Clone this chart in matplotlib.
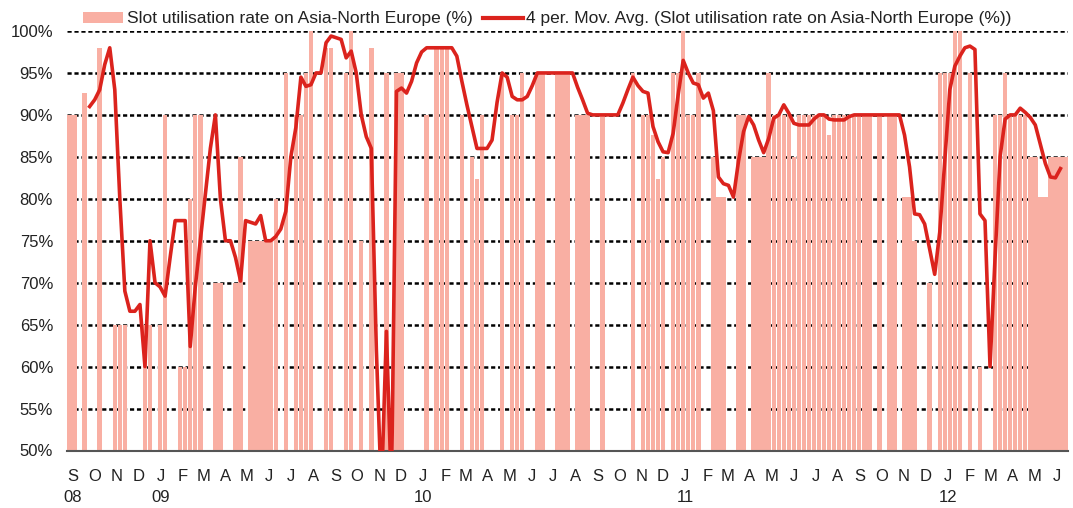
import matplotlib
matplotlib.use("Agg")
import matplotlib.pyplot as plt
import numpy as np
import pandas as pd
from matplotlib.patches import Patch
from matplotlib.lines import Line2D

nan = np.nan

# weekly slot utilisation, Sep 2008 - Jun 2012 (gaps = no data)
util = [
    90, 90, nan, 92.6, nan, nan, 98, nan, nan, 65,
    65, 65, nan, nan, nan, 65, 65, nan, 65, 90,
    nan, nan, 60, 60, 80, 90, 90, nan, nan, 70,
    70, nan, nan, 70, 85, nan, 75, 75, 75, 75,
    75, 80, nan, 95, nan, 90, 90, 95, 100, nan,
    nan, 98, 98, nan, nan, 95, 100, nan, 75, nan,
    98, nan, nan, 95, nan, 95, 95, nan, nan, nan,
    nan, 90, nan, 98, 98, 98, nan, nan, 90, nan,
    85, 82.4, 90, nan, nan, nan, 95, nan, 90, 90,
    95, nan, nan, 95, 95, nan, nan, 95, 95, 95,
    nan, 90, 90, 90, nan, nan, 90, nan, nan, nan,
    nan, nan, 95, nan, 90, 90, 87.6, 82.4, 85, nan,
    95, 95, 100, 90, 90, 95, nan, nan, 85, 80.2,
    80.2, nan, nan, 90, 90, nan, 85, 85, 85, 95,
    90, 90, 90, 90, 85, 90, 90, 90, 90, 90,
    90, 87.6, 90, 90, 90, 90, 90, 90, 90, 90,
    nan, 90, nan, 90, 90, nan, 80.2, 80.2, 75, nan,
    nan, 70, nan, 95, 95, 95, 100, 100, nan, 95,
    nan, 60, nan, nan, 90, 90, 95, 90, 90, 90,
    90, 85, 85, 80.2, 80.2, 85, 85, 85, 85,
]

# 4 period moving average as drawn on the chart
mov_avg = [
    nan, nan, nan, nan, 91, 91.8, 93, 96, 98, 93,
    80, 69, 66.6, 66.6, 67.4, 60, 75, 70, 69.5, 68.4,
    73, 77.4, 77.4, 77.4, 62.4, 69.5, 75, 80.5, 86, 90,
    80, 75, 75, 73, 70.2, 77.4, 77.2, 77, 78, 75,
    75, 75.5, 76.4, 78.5, 85, 88.5, 94.5, 93.4, 93.6, 95,
    95, 98.6, 99.4, 99.2, 99, 96.8, 97.6, 95, 90, 87.4,
    86, 62, 45, 64.2, 45, 92.8, 93.2, 92.6, 94, 96.2,
    97.5, 98, 98, 98, 98, 98, 98, 97, 94, 91.2,
    88.6, 86, 86, 86, 87, 91.5, 95, 94.5, 92.2, 91.8,
    91.8, 92.2, 93.5, 95, 95, 95, 95, 95, 95, 95,
    95, 93.3, 91.8, 90.2, 90, 90, 90, 90, 90, 90,
    91.4, 93, 94.5, 93.5, 92.8, 92.6, 88.6, 86.8, 85.6, 85.5,
    87.8, 92.4, 96.5, 95, 93.8, 93.6, 92, 92.6, 90.5, 82.6,
    81.8, 81.6, 80.2, 84.5, 88, 89.8, 88.8, 87, 85.5, 87.2,
    89.6, 90, 91.2, 90.2, 89, 88.8, 88.8, 88.8, 89.5, 90,
    90, 89.5, 89.4, 89.4, 89.4, 89.8, 90, 90, 90, 90,
    90, 90, 90, 90, 90, 90, 87.6, 83.8, 78.2, 78.1,
    77, 74, 71, 76, 84.5, 93, 95.8, 97, 98, 98.2,
    97.8, 78.2, 77.4, 60, 73, 85, 89.5, 90, 90, 90.8,
    90.3, 89.7, 88.8, 86.5, 84.2, 82.6, 82.5, 83.6, nan,
]

weeks = pd.date_range("2008-09-11", periods=len(util), freq="7D")
months = pd.date_range("2008-09-01", "2012-06-01", freq="MS") + pd.Timedelta(days=15)

bar_label = "Slot utilisation rate on Asia-North Europe (%)"
line_label = "4 per. Mov. Avg. (Slot utilisation rate on Asia-North Europe (%))"

bar_col = "#F9AFA3"
line_col = "#DB231D"

plt.rcParams["font.family"] = ["Liberation Sans", "DejaVu Sans"]
plt.rcParams["lines.scale_dashes"] = False

fig = plt.figure(figsize=(10.73, 5.08), dpi=100)
ax = fig.add_axes([67 / 1073, 57.5 / 508, 1001 / 1073, 419.5 / 508])

ax.bar(weeks, util, width=6.2, color=bar_col, linewidth=0, zorder=2)
ax.plot(weeks, mov_avg, color=line_col, lw=2.6, solid_joinstyle="round", zorder=3)

ax.set_ylim(50, 100)
ax.set_xlim(pd.Timestamp("2008-09-07 12:00"), pd.Timestamp("2012-07-01 12:00"))
ax.set_yticks(np.arange(50, 101, 5))
ax.set_yticklabels([f"{v}%" for v in range(50, 101, 5)])
ax.yaxis.grid(True, color="black", lw=1.8, linestyle=(0, (3, 2)))
ax.set_axisbelow(True)

labels = []
for m in months:
    lab = m.strftime("%b")[0]
    if m.month == 1 or m == months[0]:
        lab += "\n" + m.strftime("%y")
    labels.append(lab)
ax.set_xticks(months)
ax.set_xticklabels(labels, linespacing=1.55, va="top")

ax.tick_params(axis="both", length=0, labelsize=12, colors="#222222")
ax.tick_params(axis="x", pad=13)
ax.tick_params(axis="y", pad=10)

for s in ["top", "right", "left"]:
    ax.spines[s].set_visible(False)
ax.spines["bottom"].set_color("#555555")
ax.spines["bottom"].set_linewidth(1.5)

handles = [Patch(facecolor=bar_col, edgecolor="none", label=bar_label),
           Line2D([], [], color=line_col, lw=3, label=line_label)]
fig.legend(handles=handles, loc="upper left", bbox_to_anchor=(80 / 1073, 1 - 8 / 508),
           ncol=2, frameon=False, fontsize=12.5, handlelength=2.3, handleheight=0.64,
           handletextpad=0.2, columnspacing=0.6, borderaxespad=0, borderpad=0.2,
           labelcolor="#222222")

fig.savefig("out.png", dpi=100)
